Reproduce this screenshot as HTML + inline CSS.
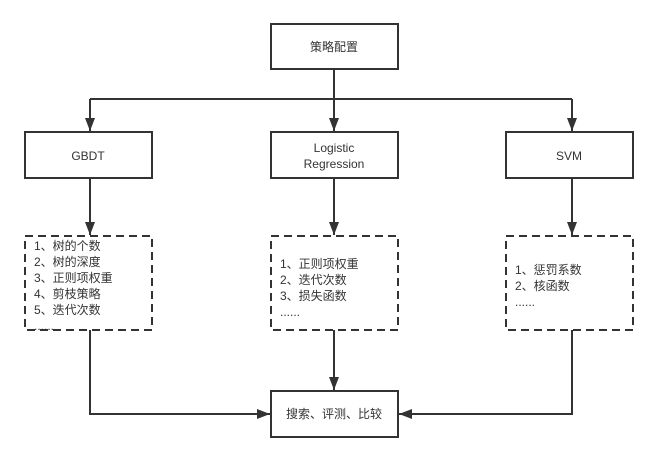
<!DOCTYPE html>
<html><head><meta charset="utf-8"><style>
html,body{margin:0;padding:0;background:#fff;}
svg text{font-family:"Liberation Sans","Noto Sans CJK SC",sans-serif;font-size:12px;fill:#333;}
</style></head><body>
<svg width="658" height="462" viewBox="0 0 658 462" xmlns="http://www.w3.org/2000/svg">
<defs><marker id="a" markerWidth="14" markerHeight="12" refX="13" refY="6" orient="auto" markerUnits="userSpaceOnUse"><path d="M0,1 L13,6 L0,11 z" fill="#333"/></marker></defs>
<g stroke="#333" stroke-width="2" fill="none">
<rect x="271" y="24" width="127" height="45" fill="#fff"/>
<rect x="25" y="132" width="127" height="46" fill="#fff"/>
<rect x="271" y="132" width="127" height="46" fill="#fff"/>
<rect x="506" y="132" width="127" height="46" fill="#fff"/>
<rect x="271" y="391" width="127" height="46" fill="#fff"/>
<g stroke-dasharray="8,5">
<rect x="25" y="236" width="127" height="94"/>
<rect x="271" y="236" width="127" height="94"/>
<rect x="506" y="236" width="127" height="94"/>
</g>
<path d="M334 69 V131" marker-end="url(#a)"/>
<path d="M90 99 H572"/>
<path d="M90 99 V131" marker-end="url(#a)"/>
<path d="M572 99 V131" marker-end="url(#a)"/>
<path d="M90 178 V235" marker-end="url(#a)"/>
<path d="M334 178 V235" marker-end="url(#a)"/>
<path d="M572 178 V235" marker-end="url(#a)"/>
<path d="M334 330 V390" marker-end="url(#a)"/>
<path d="M90 330 V414 H270" marker-end="url(#a)"/>
<path d="M572 330 V414 H399" marker-end="url(#a)"/>
</g>
<text x="334" y="51" text-anchor="middle">策略配置</text>
<text x="88" y="160" text-anchor="middle">GBDT</text>
<text x="334" y="152" text-anchor="middle">Logistic</text>
<text x="334" y="168" text-anchor="middle">Regression</text>
<text x="569" y="160" text-anchor="middle">SVM</text>
<text x="334" y="418" text-anchor="middle">搜索、评测、比较</text>
<text x="34" y="250">1、树的个数</text>
<text x="34" y="266">2、树的深度</text>
<text x="34" y="282">3、正则项权重</text>
<text x="34" y="298">4、剪枝策略</text>
<text x="34" y="314">5、迭代次数</text>
<text x="34" y="330">......</text>
<text x="280" y="268">1、正则项权重</text>
<text x="280" y="284">2、迭代次数</text>
<text x="280" y="300">3、损失函数</text>
<text x="280" y="316">......</text>
<text x="515" y="274">1、惩罚系数</text>
<text x="515" y="290">2、核函数</text>
<text x="515" y="306">......</text>
</svg>
</body></html>
